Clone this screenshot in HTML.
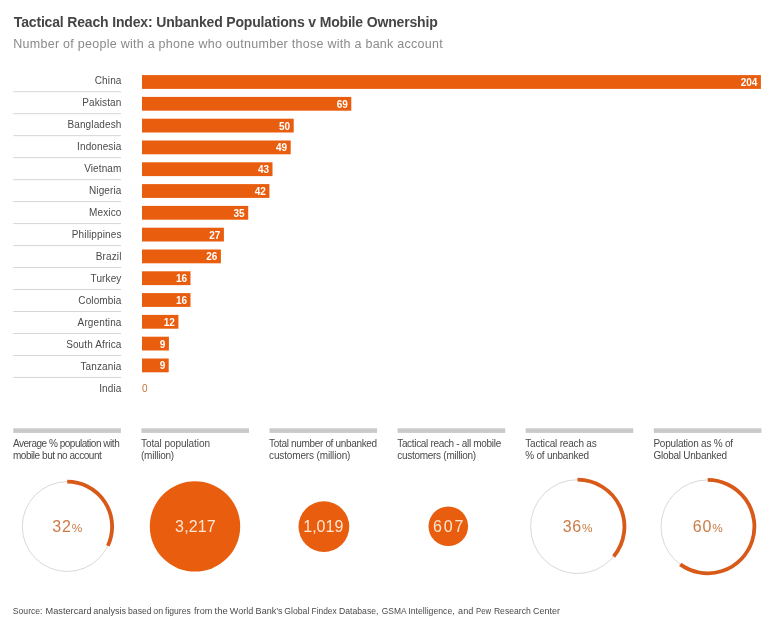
<!DOCTYPE html>
<html lang="en">
<head>
<meta charset="utf-8">
<title>Tactical Reach Index: Unbanked Populations v Mobile Ownership</title>
<style>
html,body{margin:0;padding:0;background:#fff;}
body{width:783px;height:640px;overflow:hidden;font-family:"Liberation Sans",Arial,sans-serif;}
svg{display:block;}
svg text{font-family:"Liberation Sans",Arial,sans-serif;}
.title{font-size:14px;font-weight:bold;fill:#454545;letter-spacing:-0.165px;}
.sub{font-size:12.5px;fill:#8a8a8a;letter-spacing:0.265px;}
.lab{font-size:10px;letter-spacing:0.12px;fill:#4a4a4a;text-anchor:end;}
.val{font-size:10px;font-weight:bold;fill:#fff;text-anchor:end;}
.zero{font-size:10px;fill:#C9712E;}
.col{font-size:10px;fill:#4a4a4a;}
.big{font-size:16px;text-anchor:middle;}
.pc{font-size:11.8px;}
.foot{font-size:8.77px;fill:#4a4a4a;}
</style>
</head>
<body>
<svg width="783" height="640" viewBox="0 0 783 640">
<rect width="783" height="640" fill="#ffffff"/>
<text class="title" x="13.8" y="26.8">Tactical Reach Index: Unbanked Populations v Mobile Ownership</text>
<text class="sub" x="13.3" y="47.8">Number of people with a phone who outnumber those with a bank account</text>

<g id="rows">
<text class="lab" x="121.5" y="84.2">China</text>
<rect x="13.3" y="91.20" width="107.7" height="1" fill="#d6d6d6"/>
<rect x="142" y="75.1" width="618.9" height="13.8" fill="#E95D0E"/>
<text class="val" x="757.4" y="86.0">204</text>
<text class="lab" x="121.5" y="106.2">Pakistan</text>
<rect x="13.3" y="113.18" width="107.7" height="1" fill="#d6d6d6"/>
<rect x="142" y="96.9" width="209.3" height="13.8" fill="#E95D0E"/>
<text class="val" x="347.8" y="107.8">69</text>
<text class="lab" x="121.5" y="128.2">Bangladesh</text>
<rect x="13.3" y="135.16" width="107.7" height="1" fill="#d6d6d6"/>
<rect x="142" y="118.7" width="151.7" height="13.8" fill="#E95D0E"/>
<text class="val" x="290.2" y="129.6">50</text>
<text class="lab" x="121.5" y="150.2">Indonesia</text>
<rect x="13.3" y="157.14" width="107.7" height="1" fill="#d6d6d6"/>
<rect x="142" y="140.5" width="148.7" height="13.8" fill="#E95D0E"/>
<text class="val" x="287.2" y="151.4">49</text>
<text class="lab" x="121.5" y="172.2">Vietnam</text>
<rect x="13.3" y="179.12" width="107.7" height="1" fill="#d6d6d6"/>
<rect x="142" y="162.3" width="130.5" height="13.8" fill="#E95D0E"/>
<text class="val" x="269.0" y="173.2">43</text>
<text class="lab" x="121.5" y="194.2">Nigeria</text>
<rect x="13.3" y="201.10" width="107.7" height="1" fill="#d6d6d6"/>
<rect x="142" y="184.1" width="127.4" height="13.8" fill="#E95D0E"/>
<text class="val" x="265.9" y="195.0">42</text>
<text class="lab" x="121.5" y="216.2">Mexico</text>
<rect x="13.3" y="223.08" width="107.7" height="1" fill="#d6d6d6"/>
<rect x="142" y="205.9" width="106.2" height="13.8" fill="#E95D0E"/>
<text class="val" x="244.7" y="216.8">35</text>
<text class="lab" x="121.5" y="238.2">Philippines</text>
<rect x="13.3" y="245.06" width="107.7" height="1" fill="#d6d6d6"/>
<rect x="142" y="227.7" width="81.9" height="13.8" fill="#E95D0E"/>
<text class="val" x="220.4" y="238.6">27</text>
<text class="lab" x="121.5" y="260.2">Brazil</text>
<rect x="13.3" y="267.04" width="107.7" height="1" fill="#d6d6d6"/>
<rect x="142" y="249.5" width="78.9" height="13.8" fill="#E95D0E"/>
<text class="val" x="217.4" y="260.4">26</text>
<text class="lab" x="121.5" y="282.2">Turkey</text>
<rect x="13.3" y="289.02" width="107.7" height="1" fill="#d6d6d6"/>
<rect x="142" y="271.3" width="48.5" height="13.8" fill="#E95D0E"/>
<text class="val" x="187.0" y="282.2">16</text>
<text class="lab" x="121.5" y="304.2">Colombia</text>
<rect x="13.3" y="311.00" width="107.7" height="1" fill="#d6d6d6"/>
<rect x="142" y="293.1" width="48.5" height="13.8" fill="#E95D0E"/>
<text class="val" x="187.0" y="304.0">16</text>
<text class="lab" x="121.5" y="326.2">Argentina</text>
<rect x="13.3" y="332.98" width="107.7" height="1" fill="#d6d6d6"/>
<rect x="142" y="314.9" width="36.4" height="13.8" fill="#E95D0E"/>
<text class="val" x="174.9" y="325.8">12</text>
<text class="lab" x="121.5" y="348.2">South Africa</text>
<rect x="13.3" y="354.96" width="107.7" height="1" fill="#d6d6d6"/>
<rect x="142" y="336.7" width="26.9" height="13.8" fill="#E95D0E"/>
<text class="val" x="165.4" y="347.6">9</text>
<text class="lab" x="121.5" y="370.2">Tanzania</text>
<rect x="13.3" y="376.94" width="107.7" height="1" fill="#d6d6d6"/>
<rect x="142" y="358.5" width="26.7" height="13.8" fill="#E95D0E"/>
<text class="val" x="165.2" y="369.4">9</text>
<text class="lab" x="121.5" y="392.2">India</text>
<text class="zero" x="142" y="392.3">0</text>
</g>
<g id="stats">
<rect x="13.3" y="428.3" width="107.6" height="4.6" fill="#c9c9c9"/>
<text class="col" x="12.9" y="446.9" textLength="106.8" lengthAdjust="spacing">Average % population with</text>
<text class="col" x="12.9" y="459.0" textLength="88.9" lengthAdjust="spacing">mobile but no account</text>
<rect x="141.4" y="428.3" width="107.6" height="4.6" fill="#c9c9c9"/>
<text class="col" x="141.0" y="446.9" textLength="69" lengthAdjust="spacing">Total population</text>
<text class="col" x="141.0" y="459.0" textLength="33.2" lengthAdjust="spacing">(million)</text>
<rect x="269.5" y="428.3" width="107.6" height="4.6" fill="#c9c9c9"/>
<text class="col" x="269.1" y="446.9" textLength="108" lengthAdjust="spacing">Total number of unbanked</text>
<text class="col" x="269.1" y="459.0" textLength="81.3" lengthAdjust="spacing">customers (million)</text>
<rect x="397.6" y="428.3" width="107.6" height="4.6" fill="#c9c9c9"/>
<text class="col" x="397.2" y="446.9" textLength="104" lengthAdjust="spacing">Tactical reach - all mobile</text>
<text class="col" x="397.2" y="459.0" textLength="79" lengthAdjust="spacing">customers (million)</text>
<rect x="525.7" y="428.3" width="107.6" height="4.6" fill="#c9c9c9"/>
<text class="col" x="525.3" y="446.9" textLength="71.4" lengthAdjust="spacing">Tactical reach as</text>
<text class="col" x="525.3" y="459.0" textLength="63.8" lengthAdjust="spacing">% of unbanked</text>
<rect x="653.8" y="428.3" width="107.6" height="4.6" fill="#c9c9c9"/>
<text class="col" x="653.4" y="446.9" textLength="79.7" lengthAdjust="spacing">Population as % of</text>
<text class="col" x="653.4" y="459.0" textLength="73.7" lengthAdjust="spacing">Global Unbanked</text>
<circle cx="67.2" cy="526.6" r="44.9" fill="none" stroke="#d9d9d9" stroke-width="1"/>
<path d="M67.2 481.70000000000005 A44.9 44.9 0 0 1 107.83 545.72" fill="none" stroke="#D85A18" stroke-width="3.8"/>
<text class="big" x="67.3" y="532" fill="#CB7B45" letter-spacing="0.8">32<tspan class="pc" letter-spacing="0">%</tspan></text>
<circle cx="195" cy="526.4" r="45.2" fill="#E95D0E"/>
<text class="big" x="195.4" y="532" fill="#FDE6D2" textLength="40.6" lengthAdjust="spacing">3,217</text>
<circle cx="323.9" cy="526.6" r="25.4" fill="#E95D0E"/>
<text class="big" x="323.3" y="532" fill="#FDE6D2">1,019</text>
<circle cx="448.3" cy="526.3" r="19.8" fill="#E95D0E"/>
<text class="big" x="448.1" y="532" fill="#FDE6D2" textLength="30.4" lengthAdjust="spacing">607</text>
<circle cx="577.5" cy="526.6" r="46.9" fill="none" stroke="#d9d9d9" stroke-width="1"/>
<path d="M577.5 479.70000000000005 A46.9 46.9 0 0 1 613.64 556.50" fill="none" stroke="#D85A18" stroke-width="3.8"/>
<text class="big" x="577.6" y="532" fill="#CB7B45" letter-spacing="0.8">36<tspan class="pc" letter-spacing="0">%</tspan></text>
<circle cx="707.7" cy="526.6" r="46.7" fill="none" stroke="#d9d9d9" stroke-width="1"/>
<path d="M707.7 479.90000000000003 A46.7 46.7 0 1 1 680.25 564.38" fill="none" stroke="#D85A18" stroke-width="3.8"/>
<text class="big" x="707.8" y="532" fill="#CB7B45" letter-spacing="0.8">60<tspan class="pc" letter-spacing="0">%</tspan></text>
</g>
<text class="foot" y="614.2"><tspan x="12.8" textLength="29.7" lengthAdjust="spacingAndGlyphs">Source:</tspan> <tspan x="45.5" textLength="46.1" lengthAdjust="spacingAndGlyphs">Mastercard</tspan> <tspan x="93.2" textLength="32.9" lengthAdjust="spacingAndGlyphs">analysis</tspan> <tspan x="128.0" textLength="23.6" lengthAdjust="spacingAndGlyphs">based</tspan> <tspan x="153.3" textLength="9.8" lengthAdjust="spacingAndGlyphs">on</tspan> <tspan x="165.0" textLength="25.7" lengthAdjust="spacingAndGlyphs">figures</tspan> <tspan x="194.1" textLength="18.2" lengthAdjust="spacingAndGlyphs">from</tspan> <tspan x="214.5" textLength="13.2" lengthAdjust="spacingAndGlyphs">the</tspan> <tspan x="229.8" textLength="23.4" lengthAdjust="spacingAndGlyphs">World</tspan> <tspan x="255.6" textLength="27.0" lengthAdjust="spacingAndGlyphs">Bank’s</tspan> <tspan x="284.2" textLength="25.2" lengthAdjust="spacingAndGlyphs">Global</tspan> <tspan x="311.5" textLength="25.2" lengthAdjust="spacingAndGlyphs">Findex</tspan> <tspan x="339.1" textLength="39.3" lengthAdjust="spacingAndGlyphs">Database,</tspan> <tspan x="381.8" textLength="24.4" lengthAdjust="spacingAndGlyphs">GSMA</tspan> <tspan x="408.3" textLength="46.4" lengthAdjust="spacingAndGlyphs">Intelligence,</tspan> <tspan x="458.1" textLength="15.2" lengthAdjust="spacingAndGlyphs">and</tspan> <tspan x="476.0" textLength="15.0" lengthAdjust="spacingAndGlyphs">Pew</tspan> <tspan x="493.9" textLength="36.9" lengthAdjust="spacingAndGlyphs">Research</tspan> <tspan x="533.0" textLength="26.9" lengthAdjust="spacingAndGlyphs">Center</tspan></text>
</svg>
</body>
</html>
